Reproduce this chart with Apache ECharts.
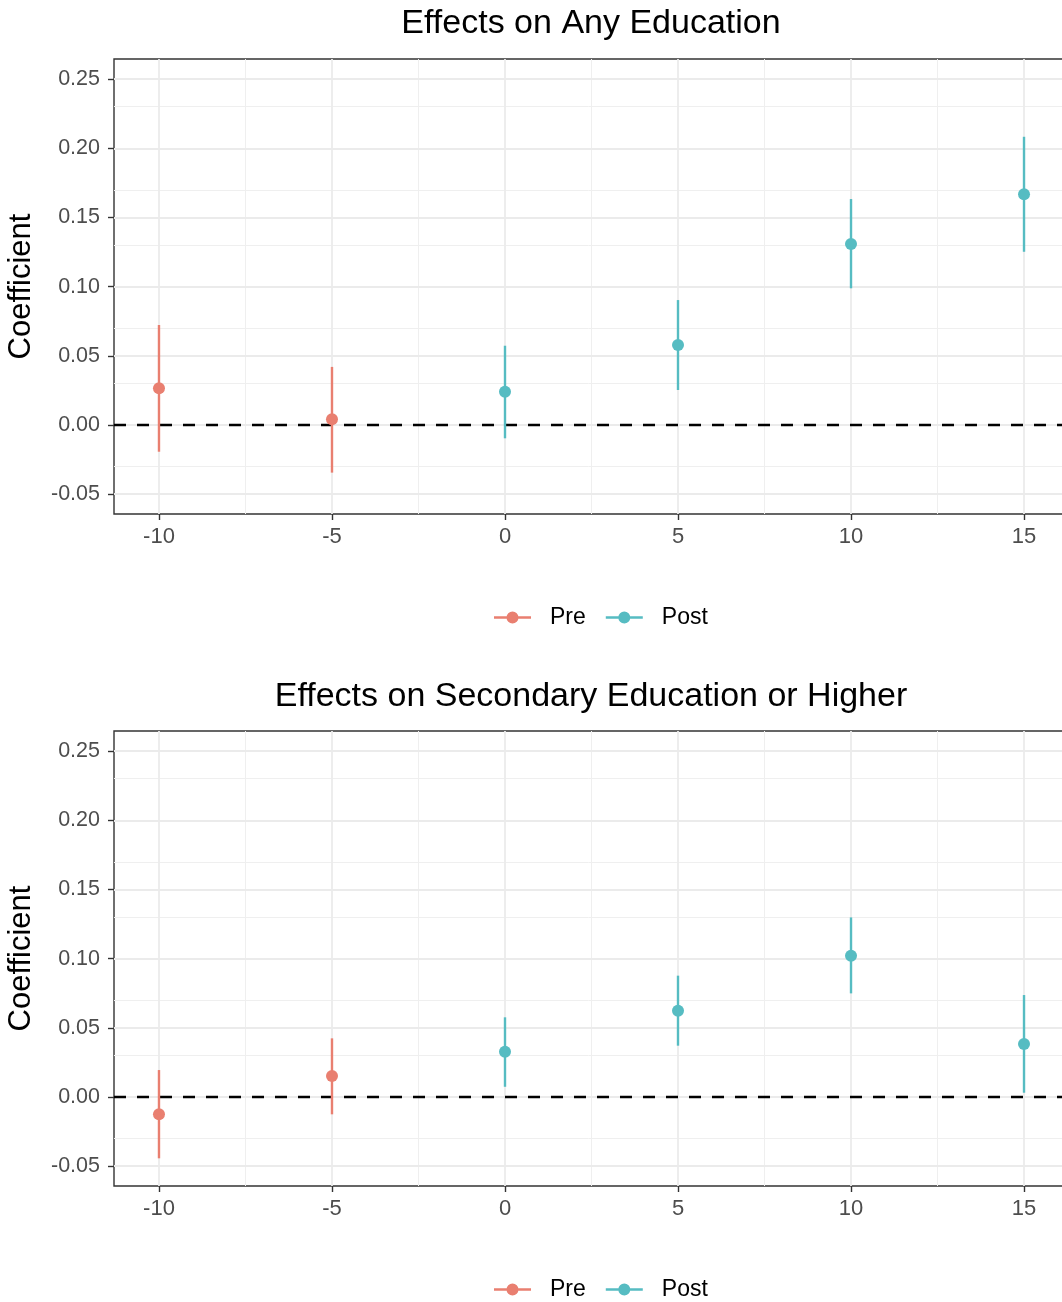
<!DOCTYPE html>
<html>
<head>
<meta charset="utf-8">
<script src="https://cdn.jsdelivr.net/npm/echarts@6/dist/echarts.min.js"></script>
<style>
  html, body { margin: 0; padding: 0; background: #ffffff; overflow: hidden; }
  #chart { width: 1062px; height: 1302px; }
</style>
</head>
<body>
<div id="chart"></div>
<script>
// Event-time coefficients (years relative to treatment), with 95% intervals
const years = [-10, -5, 0, 5, 10, 15];
const periods = ['Pre', 'Pre', 'Post', 'Post', 'Post', 'Post'];

const anyEst  = [0.0265, 0.0041, 0.0241, 0.0578, 0.1308, 0.1667];
const anyLow  = [-0.0193, -0.0344, -0.0096, 0.0253, 0.0988, 0.1252];
const anyHigh = [0.0723, 0.0420, 0.0573, 0.0903, 0.1633, 0.2083];

const secEst  = [-0.0125, 0.0152, 0.0327, 0.0624, 0.1021, 0.0383];
const secLow  = [-0.0443, -0.0125, 0.0074, 0.0371, 0.0749, 0.0031];
const secHigh = [0.0195, 0.0424, 0.0576, 0.0877, 0.1298, 0.0737];

const panelTitles = ['Effects on Any Education', 'Effects on Secondary Education or Higher'];
const yAxisTitle = 'Coefficient';
const groups = ['Pre', 'Post'];

const yBreaks = [-0.05, 0, 0.05, 0.10, 0.15, 0.20, 0.25];
const yMinorBreaks = [-0.025, 0.025, 0.075, 0.125, 0.175, 0.225];
const xBreaks = [-10, -5, 0, 5, 10, 15];
const xMinorBreaks = [-7.5, -2.5, 2.5, 7.5, 12.5];

const colors = { Pre: '#E97F70', Post: '#56BCC2' };
const FONT = '"Liberation Sans", Arial, Helvetica, sans-serif';

const panels = [
  { est: anyEst, low: anyLow, high: anyHigh, top: 59, titleY: 24, legendTop: 606 },
  { est: secEst, low: secLow, high: secHigh, top: 731, titleY: 697, legendTop: 1278 }
];
const PANEL_H = 455;
const PANEL_W = 955; // panel runs slightly past the right edge of the page

// legend key: short horizontal line with a dot on it
const keyIcon = 'path://M0,5H37V7.4H0Z M24.5,6.2A6,6 0 1,1 12.5,6.2A6,6 0 1,1 24.5,6.2Z';

const grids = [], xAxes = [], yAxes = [], series = [], legends = [], graphics = [];

panels.forEach((p, i) => {
  grids.push({
    left: 114, width: PANEL_W, top: p.top, height: PANEL_H,
    outerBoundsMode: 'none', containLabel: false,
    show: true, borderColor: '#333333', borderWidth: 1.4, backgroundColor: 'transparent'
  });

  xAxes.push({
    type: 'value', gridIndex: i, min: -11.3, max: 16.3,
    axisLine: { show: false, onZero: false },
    axisTick: { show: true, customValues: xBreaks, length: 6, lineStyle: { color: '#333333', width: 1.4 } },
    axisLabel: {
      customValues: xBreaks, margin: 12, fontSize: 22, color: '#4D4D4D', fontFamily: FONT,
      formatter: v => String(v)
    },
    splitLine: { show: false }
  });

  yAxes.push({
    type: 'value', gridIndex: i, min: -0.0643, max: 0.2645,
    name: yAxisTitle, nameLocation: 'middle', nameGap: 77,
    nameTextStyle: { fontSize: 31, color: '#000000', fontFamily: FONT },
    axisLine: { show: false, onZero: false },
    axisTick: { show: true, customValues: yBreaks, length: 6, lineStyle: { color: '#333333', width: 1.4 } },
    axisLabel: {
      customValues: yBreaks, margin: 14, fontSize: 21.5, color: '#4D4D4D', fontFamily: FONT,
      formatter: v => v.toFixed(2)
    },
    splitLine: { show: false }
  });

  // panel grid lines (major + minor), drawn behind the data
  const gridLineData = [];
  yMinorBreaks.forEach(v => gridLineData.push({ yAxis: v, lineStyle: { width: 1.0, color: '#EFEFEF', type: 'solid' } }));
  xMinorBreaks.forEach(v => gridLineData.push({ xAxis: v, lineStyle: { width: 1.0, color: '#EFEFEF', type: 'solid' } }));
  yBreaks.forEach(v => gridLineData.push({ yAxis: v, lineStyle: { width: 1.8, color: '#EBEBEB', type: 'solid' } }));
  xBreaks.forEach(v => gridLineData.push({ xAxis: v, lineStyle: { width: 1.8, color: '#EBEBEB', type: 'solid' } }));
  series.push({
    name: 'gridlines', type: 'line', xAxisIndex: i, yAxisIndex: i, data: [], silent: true,
    markLine: {
      silent: true, symbol: 'none', z: 1, animation: false,
      label: { show: false }, emphasis: { disabled: true },
      data: gridLineData
    }
  });

  // horizontal reference line at zero
  series.push({
    name: 'zero', type: 'line', xAxisIndex: i, yAxisIndex: i, data: [], silent: true,
    markLine: {
      silent: true, symbol: 'none', z: 2, animation: false,
      label: { show: false }, emphasis: { disabled: true },
      data: [{ yAxis: 0, lineStyle: { color: '#000000', width: 2.4, type: [12, 11], dashOffset: 0 } }]
    }
  });

  groups.forEach(g => {
    const idx = years.map((_, k) => k).filter(k => periods[k] === g);
    series.push({
      name: g, type: 'scatter', xAxisIndex: i, yAxisIndex: i, z: 4,
      symbol: 'circle', symbolSize: 12,
      itemStyle: { color: colors[g], opacity: 1 },
      data: idx.map(k => [years[k], p.est[k]]),
      animation: false
    });
    series.push({
      name: g, type: 'custom', xAxisIndex: i, yAxisIndex: i, z: 3,
      itemStyle: { color: colors[g] },
      encode: { x: 0, y: [1, 2] },
      data: idx.map(k => [years[k], p.low[k], p.high[k]]),
      renderItem: (params, api) => {
        const x = api.value(0);
        const a = api.coord([x, api.value(1)]);
        const b = api.coord([x, api.value(2)]);
        return {
          type: 'line',
          shape: { x1: a[0], y1: a[1], x2: b[0], y2: b[1] },
          style: { stroke: colors[g], lineWidth: 2.4 }
        };
      },
      animation: false
    });
  });

  legends.push({
    data: groups.map(g => ({ name: g, icon: keyIcon })),
    left: 494, top: p.legendTop, orient: 'horizontal', padding: 0,
    itemWidth: 37, itemHeight: 12, itemGap: 20, selectedMode: false,
    textStyle: { fontSize: 23, color: '#000000', fontFamily: FONT, padding: [0, 0, 0, 14] }
  });

  graphics.push({
    type: 'text', x: 591, y: p.titleY, silent: true,
    style: {
      text: panelTitles[i], fill: '#000000',
      font: '34px ' + FONT, fontSize: 34, fontFamily: FONT,
      align: 'center', verticalAlign: 'middle', textAlign: 'center', textVerticalAlign: 'middle'
    }
  });
});

const chart = echarts.init(document.getElementById('chart'), null, { renderer: 'canvas' });
chart.setOption({
  backgroundColor: '#ffffff',
  animation: false,
  grid: grids,
  xAxis: xAxes,
  yAxis: yAxes,
  legend: legends,
  graphic: graphics,
  series: series
});
</script>
</body>
</html>
